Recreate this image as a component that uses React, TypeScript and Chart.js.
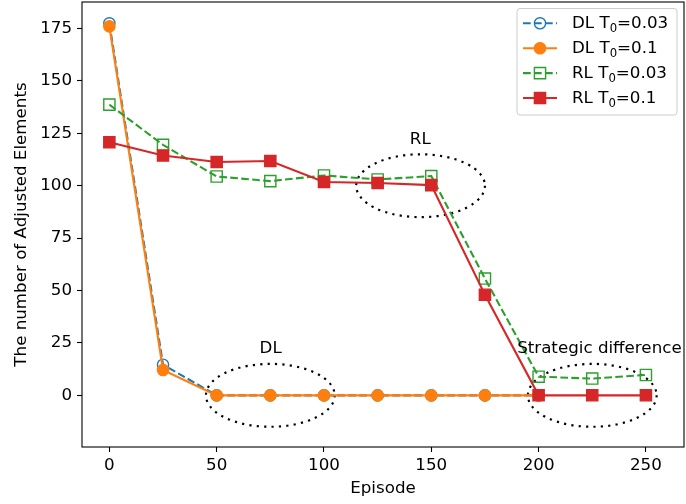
import React, { useEffect, useRef } from "react";
import { Chart, registerables } from "chart.js";

Chart.register(...registerables);

// ---- data ----
const episodesDL = [0, 25, 50, 75, 100, 125, 150, 175, 200];
const episodesRL = [0, 25, 50, 75, 100, 125, 150, 175, 200, 225, 250];
const dlT003 = [177.5, 14.6, 0, 0, 0, 0, 0, 0, 0];
const dlT01 = [176, 12.1, 0, 0, 0, 0, 0, 0, 0];
const rlT003 = [138.7, 119.5, 104.4, 102.2, 104.9, 103, 104.6, 55.7, 8.9, 8, 9.7];
const rlT01 = [120.7, 114.4, 111.3, 111.8, 101.8, 101.3, 100.3, 48, 0, 0, 0];
const xTicks = [0, 50, 100, 150, 200, 250];
const yTicks = [0, 25, 50, 75, 100, 125, 150, 175];
const legendPrefix = ["DL T", "DL T", "RL T", "RL T"];
const legendSub = ["0", "0", "0", "0"];
const legendSuffix = ["=0.03", "=0.1", "=0.03", "=0.1"];
const noteTexts = ["RL", "DL", "Strategic difference"];
const noteX = [140, 70, 190];
const noteY = [120, 20, 20];
const ellipseCx = [145, 75, 225];
const ellipseCy = [100, 0, 0];
const ellipseW = [60, 60, 60];
const ellipseH = [30, 30, 30];

const BLUE = "#1f77b4";
const ORANGE = "#ff7f0e";
const GREEN = "#2ca02c";
const RED = "#d62728";
const FONT = "DejaVu Sans";
const FS = 16.7;
const DASH = [7.7, 3.3];

const toPts = (xs: number[], ys: number[]) => xs.map((x, i) => ({ x, y: ys[i] }));

function drawMarker(ctx: CanvasRenderingContext2D, kind: string, x: number, y: number, color: string, filled: boolean) {
  ctx.save();
  ctx.setLineDash([]);
  ctx.lineWidth = 1.4;
  ctx.strokeStyle = color;
  ctx.fillStyle = color;
  ctx.beginPath();
  if (kind === "circle") ctx.arc(x, y, 5.6, 0, Math.PI * 2);
  else ctx.rect(x - 5.6, y - 5.6, 11.2, 11.2);
  if (filled) ctx.fill();
  ctx.stroke();
  ctx.restore();
}

const overlay = {
  id: "overlay",
  beforeDatasetsDraw(chart: any) {
    const { ctx, scales } = chart;
    const xs = scales.x, ys = scales.y;
    ctx.save();
    ctx.strokeStyle = "#000";
    ctx.lineWidth = 2.2;
    ctx.setLineDash([2.2, 5.2]);
    for (let i = 0; i < ellipseCx.length; i++) {
      const cx = xs.getPixelForValue(ellipseCx[i]);
      const cy = ys.getPixelForValue(ellipseCy[i]);
      const rx = Math.abs(xs.getPixelForValue(ellipseCx[i] + ellipseW[i] / 2) - cx);
      const ry = Math.abs(ys.getPixelForValue(ellipseCy[i] + ellipseH[i] / 2) - cy);
      ctx.beginPath();
      ctx.ellipse(cx, cy, rx, ry, 0, 0, Math.PI * 2);
      ctx.stroke();
    }
    ctx.restore();
  },
  afterDatasetsDraw(chart: any) {
    const { ctx, scales, chartArea } = chart;
    const xs = scales.x, ys = scales.y;
    ctx.save();
    ctx.strokeStyle = "#000";
    ctx.lineWidth = 1.1;
    ctx.setLineDash([]);
    ctx.strokeRect(chartArea.left, chartArea.top, chartArea.right - chartArea.left, chartArea.bottom - chartArea.top);
    ctx.fillStyle = "#000";
    ctx.font = `${FS}px "${FONT}"`;
    ctx.textAlign = "left";
    ctx.textBaseline = "alphabetic";
    for (let i = 0; i < noteTexts.length; i++) {
      ctx.fillText(noteTexts[i], xs.getPixelForValue(noteX[i]), ys.getPixelForValue(noteY[i]));
    }
    ctx.restore();
  },
  afterDraw(chart: any) {
    const { ctx } = chart;
    ctx.save();
    const bx = 517, by = 8.5, bw = 160, bh = 106.5, r = 3;
    ctx.beginPath();
    ctx.moveTo(bx + r, by);
    ctx.arcTo(bx + bw, by, bx + bw, by + bh, r);
    ctx.arcTo(bx + bw, by + bh, bx, by + bh, r);
    ctx.arcTo(bx, by + bh, bx, by, r);
    ctx.arcTo(bx, by, bx + bw, by, r);
    ctx.closePath();
    ctx.fillStyle = "rgba(255,255,255,0.8)";
    ctx.fill();
    ctx.strokeStyle = "#cccccc";
    ctx.lineWidth = 1;
    ctx.stroke();
    const ds = chart.data.datasets;
    const order = [3, 2, 1, 0];
    const kinds = ["circle", "circle", "rect", "rect"];
    const fills = [false, true, false, true];
    for (let k = 0; k < 4; k++) {
      const d = ds[order[k]];
      const y = 23.3 + k * 24.9;
      ctx.save();
      ctx.strokeStyle = d.borderColor;
      ctx.lineWidth = 2.1;
      ctx.setLineDash(d.borderDash || []);
      ctx.beginPath();
      ctx.moveTo(523, y);
      ctx.lineTo(557, y);
      ctx.stroke();
      ctx.restore();
      drawMarker(ctx, kinds[k], 540, y, d.borderColor, fills[k]);
      ctx.fillStyle = "#000";
      ctx.font = `${FS}px "${FONT}"`;
      ctx.textBaseline = "alphabetic";
      ctx.textAlign = "left";
      let tx = 572;
      const base = y + 5;
      ctx.fillText(legendPrefix[k], tx, base);
      tx += ctx.measureText(legendPrefix[k]).width;
      ctx.font = `${FS * 0.7}px "${FONT}"`;
      ctx.fillText(legendSub[k], tx, base + 3.5);
      tx += ctx.measureText(legendSub[k]).width;
      ctx.font = `${FS}px "${FONT}"`;
      ctx.fillText(legendSuffix[k], tx, base);
    }
    ctx.restore();
  },
};

export default function App() {
  const ref = useRef<HTMLCanvasElement>(null);
  useEffect(() => {
    document.body.style.margin = "0";
    const canvas = ref.current!;
    const chart = new Chart(canvas, {
      type: "line",
      data: {
        datasets: [
          {
            label: "RL T0=0.1",
            data: toPts(episodesRL, rlT01),
            borderColor: RED,
            backgroundColor: RED,
            borderWidth: 2.1,
            pointStyle: "rect",
            pointRadius: 7.9,
            pointBorderWidth: 1.4,
            pointBackgroundColor: RED,
            pointBorderColor: RED,
          },
          {
            label: "RL T0=0.03",
            data: toPts(episodesRL, rlT003),
            borderColor: GREEN,
            backgroundColor: GREEN,
            borderWidth: 2.1,
            borderDash: DASH,
            pointStyle: "rect",
            pointRadius: 7.9,
            pointBorderWidth: 1.4,
            pointBackgroundColor: "rgba(0,0,0,0)",
            pointBorderColor: GREEN,
          },
          {
            label: "DL T0=0.1",
            data: toPts(episodesDL, dlT01),
            borderColor: ORANGE,
            backgroundColor: ORANGE,
            borderWidth: 2.1,
            pointStyle: "circle",
            pointRadius: 5.6,
            pointBorderWidth: 1.4,
            pointBackgroundColor: ORANGE,
            pointBorderColor: ORANGE,
          },
          {
            label: "DL T0=0.03",
            data: toPts(episodesDL, dlT003),
            borderColor: BLUE,
            backgroundColor: BLUE,
            borderWidth: 2.1,
            borderDash: DASH,
            pointStyle: "circle",
            pointRadius: 5.6,
            pointBorderWidth: 1.4,
            pointBackgroundColor: "rgba(0,0,0,0)",
            pointBorderColor: BLUE,
          },
        ] as any,
      },
      options: {
        animation: false,
        responsive: false,
        devicePixelRatio: 1,
        layout: { autoPadding: false, padding: { top: 2, right: 2, left: 0, bottom: 0 } },
        plugins: { legend: { display: false }, tooltip: { enabled: false } },
        elements: { line: { tension: 0 } },
        scales: {
          x: {
            type: "linear",
            min: -12.75,
            max: 267.75,
            afterBuildTicks: (s: any) => { s.ticks = xTicks.map((v) => ({ value: v })); },
            afterFit: (s: any) => { s.height = 57; s.paddingLeft = 0; s.paddingRight = 0; s.paddingTop = 0; s.paddingBottom = 0; },
            grid: { display: true, drawOnChartArea: false, drawTicks: true, tickLength: 5, tickColor: "#000", tickWidth: 1.1 },
            border: { display: false },
            ticks: { color: "#000", font: { family: FONT, size: FS }, padding: 4, maxRotation: 0, callback: (v: any) => String(v) },
            title: { display: true, text: "Episode", color: "#000", font: { family: FONT, size: FS }, padding: { top: 0, bottom: 5 } },
          },
          y: {
            type: "linear",
            min: -24.65,
            max: 187.65,
            afterBuildTicks: (s: any) => { s.ticks = yTicks.map((v) => ({ value: v })); },
            afterFit: (s: any) => { s.width = 82; s.paddingLeft = 0; s.paddingRight = 0; s.paddingTop = 0; s.paddingBottom = 0; },
            grid: { display: true, drawOnChartArea: false, drawTicks: true, tickLength: 5, tickColor: "#000", tickWidth: 1.1 },
            border: { display: false },
            ticks: { color: "#000", font: { family: FONT, size: FS }, padding: 5, callback: (v: any) => String(v) },
            title: { display: true, text: "The number of Adjusted Elements", color: "#000", font: { family: FONT, size: FS }, padding: { top: 12, bottom: 0 } },
          },
        },
      },
      plugins: [overlay],
    });
    return () => chart.destroy();
  }, []);
  return <canvas ref={ref} width={686} height={504} style={{ display: "block", width: 686, height: 504 }} />;
}
